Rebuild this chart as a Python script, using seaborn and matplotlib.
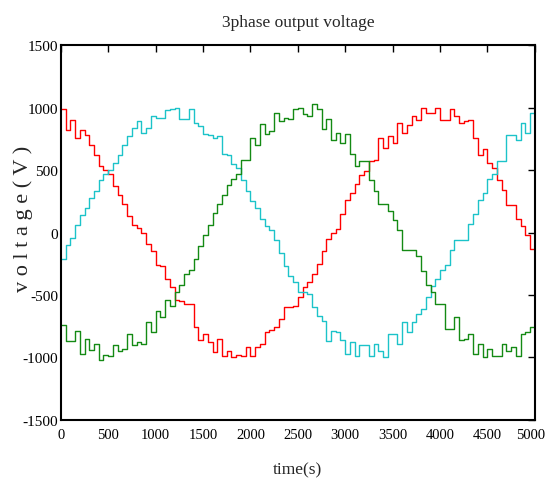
import numpy as np
import pandas as pd
import matplotlib
matplotlib.use("Agg")
import matplotlib.pyplot as plt
import matplotlib.transforms as mtransforms
import seaborn as sns

# sample instants (s), one every 50 s
time_s = np.arange(0, 5001, 50)

# phase voltages (V) at each sample instant, held until the next one
phase_a = [990, 820, 900, 760, 820, 780, 700, 620, 530, 500, 470, 370, 300, 230, 130, 60,
           40, 0, -90, -150, -260, -270, -370, -440, -540, -550, -570, -570, -760, -860, -810, -880,
           -960, -850, -990, -950, -1000, -980, -985, -920, -990, -920, -890, -800, -780, -760, -690, -600,
           -600, -590, -520, -440, -400, -330, -250, -150, -50, 0, 30, 150, 260, 320, 390, 460,
           490, 570, 580, 760, 680, 770, 720, 875, 800, 860, 930, 900, 995, 955, 955, 995,
           900, 900, 990, 930, 875, 890, 900, 760, 620, 670, 560, 520, 420, 340, 220, 220,
           110, 50, -20, -130, -130]
phase_b = [-210, -100, -40, 60, 140, 200, 280, 330, 420, 470, 500, 560, 620, 700, 770, 840,
           890, 800, 840, 930, 915, 915, 980, 990, 995, 905, 910, 990, 880, 850, 790, 780,
           760, 770, 630, 620, 550, 515, 420, 330, 250, 200, 110, 50, 20, -60, -160, -270,
           -350, -400, -480, -480, -490, -600, -670, -710, -870, -790, -800, -860, -970, -880, -990, -900,
           -900, -990, -890, -950, -1000, -810, -810, -890, -720, -800, -720, -650, -610, -520, -430, -370,
           -300, -260, -140, -60, -60, -60, 70, 150, 260, 320, 430, 470, 570, 570, 780, 780,
           740, 880, 800, 960, 930]
phase_c = [-740, -870, -870, -790, -970, -850, -940, -890, -1020, -980, -985, -900, -950, -930, -810, -900,
           -880, -890, -720, -800, -630, -680, -540, -590, -480, -420, -330, -300, -210, -110, -20, 60,
           160, 230, 300, 380, 430, 470, 580, 580, 760, 700, 870, 790, 810, 960, 890, 920,
           910, 990, 995, 950, 930, 1030, 990, 830, 910, 740, 800, 715, 790, 630, 530, 570,
           570, 420, 330, 230, 230, 170, 100, 20, -140, -140, -140, -190, -310, -420, -480, -570,
           -570, -770, -770, -680, -860, -850, -810, -970, -890, -1000, -930, -985, -985, -890, -950, -920,
           -985, -810, -800, -760, -780]

phases = ["a", "b", "c"]
colors = {"a": "#ff0000", "b": "#1cc3c9", "c": "#148a14"}

df = pd.concat([
    pd.DataFrame({"time": time_s, "voltage": v, "phase": p})
    for p, v in zip(phases, [phase_a, phase_b, phase_c])
], ignore_index=True)

sns.set_theme(style="white")
plt.rcParams["font.family"] = ["Liberation Serif", "DejaVu Serif"]
plt.rcParams["axes.unicode_minus"] = False

fig = plt.figure(figsize=(5.48, 4.81), dpi=100)
ax = fig.add_axes([0.111, 0.125, 0.865, 0.779])

sns.lineplot(data=df, x="time", y="voltage", hue="phase", palette=colors,
             estimator=None, drawstyle="steps-post", linewidth=1.0,
             legend=False, ax=ax)

ax.set_xlim(0, 5000)
ax.set_ylim(-1500, 1500)
ax.set_xticks(np.arange(0, 5001, 500))
ax.set_yticks(np.arange(-1500, 1501, 500))
ax.tick_params(direction="in", top=True, right=True, length=5, width=1,
               colors="black")
ax.tick_params(axis="x", labelsize=10.5, pad=6)
ax.tick_params(axis="y", labelsize=11, pad=2)
for s in ax.spines.values():
    s.set_color("black")
    s.set_linewidth(1.5)

# nudge the right-most time label so it stays inside the figure
last = ax.get_xticklabels()[-1]
last.set_transform(last.get_transform()
                   + mtransforms.ScaledTranslation(-3 / 72, 0, fig.dpi_scale_trans))

ax.set_title("3phase output voltage", fontsize=12.5, pad=14)
ax.set_xlabel("time(s)", fontsize=12.5)
ax.xaxis.set_label_coords(0.5, -0.11)
ax.set_ylabel("v o l t a g e ( V )", fontsize=16)
ax.yaxis.set_label_coords(-0.058, 0.54)

fig.savefig("out.png", dpi=100)
